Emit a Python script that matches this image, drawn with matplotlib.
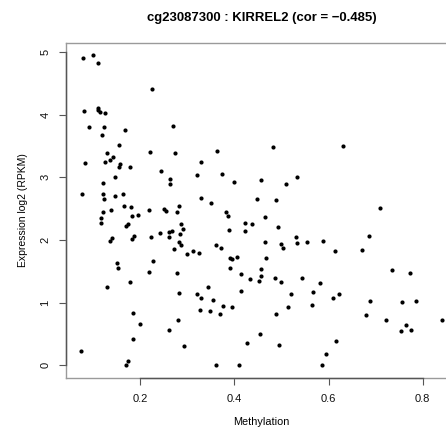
import matplotlib
matplotlib.use("Agg")
import matplotlib.pyplot as plt
import numpy as np

plt.rcParams['font.family'] = ['Liberation Sans', 'DejaVu Sans']

probe = "cg23087300"
gene = "KIRREL2"
cor = -0.485

# methylation beta value / expression per sample
methylation = [
    0.079, 0.099, 0.110, 0.224, 0.080, 0.111, 0.110, 0.115, 0.125, 0.092,
    0.123, 0.168, 0.269, 0.119, 0.155, 0.129, 0.220, 0.273, 0.143, 0.136,
    0.126, 0.083, 0.156, 0.154, 0.179, 0.245, 0.264, 0.264, 0.121, 0.147,
    0.077, 0.121, 0.123, 0.146, 0.163, 0.165, 0.180, 0.137, 0.121, 0.218,
    0.250, 0.254, 0.282, 0.279, 0.182, 0.195, 0.117, 0.117, 0.173, 0.169,
    0.286, 0.291, 0.242, 0.261, 0.268, 0.284, 0.261, 0.222, 0.186, 0.183,
    0.141, 0.135, 0.282, 0.286, 0.271, 0.300, 0.228, 0.150, 0.153, 0.218,
    0.277, 0.179, 0.129, 0.283, 0.185, 0.200, 0.280, 0.260, 0.184, 0.293,
    0.074, 0.175, 0.170, 0.330, 0.362, 0.482, 0.320, 0.374, 0.400, 0.457,
    0.510, 0.533, 0.330, 0.350, 0.448, 0.489, 0.382, 0.386, 0.466, 0.422,
    0.438, 0.422, 0.388, 0.493, 0.531, 0.533, 0.555, 0.466, 0.499, 0.504,
    0.361, 0.372, 0.312, 0.324, 0.391, 0.394, 0.405, 0.468, 0.391, 0.456,
    0.414, 0.457, 0.434, 0.452, 0.486, 0.500, 0.544, 0.344, 0.414, 0.320,
    0.328, 0.354, 0.376, 0.395, 0.327, 0.348, 0.370, 0.520, 0.514, 0.488,
    0.455, 0.427, 0.494, 0.361, 0.410, 0.631, 0.709, 0.685, 0.588, 0.613,
    0.671, 0.735, 0.772, 0.582, 0.567, 0.564, 0.609, 0.623, 0.687, 0.679,
    0.723, 0.757, 0.786, 0.765, 0.775, 0.754, 0.841, 0.616, 0.595, 0.585,
]
expression = [
    4.91, 4.95, 4.83, 4.41, 4.06, 4.11, 4.08, 4.04, 4.03, 3.81,
    3.81, 3.75, 3.82, 3.68, 3.52, 3.39, 3.41, 3.39, 3.32, 3.27,
    3.24, 3.23, 3.21, 3.17, 3.17, 3.10, 2.98, 2.90, 2.91, 3.01,
    2.74, 2.73, 2.65, 2.70, 2.73, 2.54, 2.52, 2.48, 2.45, 2.48,
    2.50, 2.47, 2.54, 2.44, 2.38, 2.40, 2.35, 2.27, 2.25, 2.23,
    2.25, 2.17, 2.11, 2.13, 2.15, 2.09, 2.04, 2.05, 2.06, 2.02,
    2.03, 1.99, 1.97, 1.92, 1.86, 1.78, 1.67, 1.63, 1.56, 1.49,
    1.47, 1.33, 1.25, 1.15, 0.83, 0.66, 0.73, 0.56, 0.42, 0.31,
    0.23, 0.07, 0.00, 3.24, 3.42, 3.49, 3.03, 3.05, 2.92, 2.96,
    2.90, 3.00, 2.67, 2.59, 2.65, 2.64, 2.45, 2.38, 2.37, 2.27,
    2.25, 2.14, 2.16, 2.21, 2.05, 1.95, 1.97, 1.97, 1.93, 1.87,
    1.92, 1.87, 1.83, 1.79, 1.72, 1.70, 1.73, 1.72, 1.56, 1.54,
    1.46, 1.42, 1.38, 1.34, 1.40, 1.33, 1.40, 1.25, 1.19, 1.14,
    1.07, 1.04, 0.95, 0.93, 0.89, 0.87, 0.82, 1.14, 0.93, 0.82,
    0.50, 0.36, 0.32, 0.00, 0.00, 3.50, 2.51, 2.06, 1.98, 1.82,
    1.84, 1.52, 1.47, 1.31, 1.17, 0.97, 1.07, 1.14, 1.03, 0.81,
    0.72, 1.01, 1.03, 0.65, 0.56, 0.54, 0.72, 0.39, 0.18, 0.00,
]

x_ticks = [0.2, 0.4, 0.6, 0.8]
y_ticks = [0, 1, 2, 3, 4, 5]

x = np.array(methylation)
y = np.array(expression)


def r_range(v):
    # base R pads the data range by 4% on each side
    lo, hi = v.min(), v.max()
    pad = 0.04 * (hi - lo)
    return lo - pad, hi + pad


fig = plt.figure(figsize=(4.46, 4.30), dpi=100)
ax = fig.add_axes([0.1491, 0.1216, 0.8744, 0.7791])

ax.scatter(x, y, s=9, c='black', linewidths=0, zorder=3)

xlim = r_range(x)
ylim = r_range(y)
ax.set_xlim(xlim)
ax.set_ylim(ylim)

for side in ['left', 'bottom', 'top', 'right']:
    ax.spines[side].set_color('#9a9a9a')
    ax.spines[side].set_linewidth(1.0)

# axis lines run from first to last tick, like R's axis()
ax.plot([x_ticks[0], x_ticks[-1]], [ylim[0], ylim[0]], color='#555555',
        lw=1.0, clip_on=False, zorder=4)
ax.plot([xlim[0], xlim[0]], [y_ticks[0], y_ticks[-1]], color='#555555',
        lw=1.0, clip_on=False, zorder=4)

ax.set_xticks(x_ticks)
ax.set_xticklabels([f"{t:.1f}" for t in x_ticks])
ax.set_yticks(y_ticks)
ax.set_yticklabels([str(t) for t in y_ticks])
ax.tick_params(axis='both', direction='out', length=5, width=0.8,
               color='#555555', labelsize=8, pad=6.5, labelcolor='#111111')
ax.tick_params(axis='y', labelrotation=90)
for lab in ax.get_yticklabels():
    lab.set_verticalalignment('center')

title = ax.set_title(f"{probe} : {gene} (cor = \u2212{abs(cor):.3f})",
                     fontsize=9, fontweight='bold', x=0.5, y=1.0, pad=15.5)
ax.set_xlabel("Methylation", fontsize=7.8, labelpad=9.5)
ax.set_ylabel("Expression log2 (RPKM)", fontsize=7.5, labelpad=9)

# keep the title about 230 px wide
fig.canvas.draw()
w = title.get_window_extent().width
title.set_fontsize(9 * 230.0 / w)

fig.savefig("out.png", dpi=100)
